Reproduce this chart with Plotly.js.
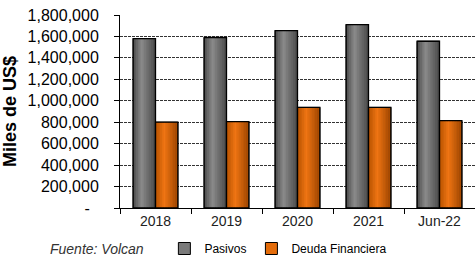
<!DOCTYPE html>
<html>
<head>
<meta charset="utf-8">
<script src="https://cdn.plot.ly/plotly-3.0.1.min.js"></script>
<style>html,body{margin:0;padding:0;background:#fff;}#chart{width:475px;height:263px;}</style>
</head>
<body>
<div id="chart"></div>
<script>
// ---- data ----
const categories = ["2018", "2019", "2020", "2021", "Jun-22"];
const pasivos = [1580000, 1590000, 1655000, 1710000, 1555000];
const deuda = [800000, 806000, 938000, 938000, 814000];
const seriesNames = ["Pasivos", "Deuda Financiera"];
const yTickVals = [0, 200000, 400000, 600000, 800000, 1000000, 1200000, 1400000, 1600000, 1800000];
const yTickText = ["-\u00a0\u00a0", "200,000", "400,000", "600,000", "800,000", "1,000,000", "1,200,000", "1,400,000", "1,600,000", "1,800,000"];
const sourceNote = "Fuente: Volcan";

// ---- style ----
const FONT = "Arial, 'Liberation Sans', sans-serif";
const BW = 0.315;
const N = 14;
function lerp(a, b, t) { return a + (b - a) * t; }
function shade(stops, t) {
  for (let i = 0; i < stops.length - 1; i++) {
    const [t0, c0] = stops[i], [t1, c1] = stops[i + 1];
    if (t >= t0 && t <= t1) {
      const u = (t - t0) / (t1 - t0);
      return "rgb(" + c0.map((v, k) => Math.round(lerp(v, c1[k], u))).join(",") + ")";
    }
  }
  return "rgb(" + stops[stops.length - 1][1].join(",") + ")";
}
const grayStops = [[0, [72, 72, 72]], [0.38, [140, 140, 140]], [1, [70, 70, 70]]];
const orangeStops = [[0, [178, 80, 0]], [0.4, [240, 118, 20]], [1, [150, 66, 0]]];

const traces = [];
function addSeries(name, vals, offset, stops, mid) {
  traces.push({type: "bar", name: name, x: categories, y: vals, offset: offset, width: BW,
    marker: {color: mid, line: {color: "#000", width: 1}}, showlegend: true, hoverinfo: "skip"});
  for (let i = 0; i < N; i++) {
    const t = (i + 0.5) / N;
    traces.push({type: "bar", x: categories, y: vals, offset: offset + BW * i / N, width: BW / N + 0.002,
      marker: {color: shade(stops, t), line: {width: 0}}, showlegend: false, hoverinfo: "skip"});
  }
  traces.push({type: "bar", x: categories, y: vals, offset: offset, width: BW,
    marker: {color: "rgba(0,0,0,0)", line: {color: "#000", width: 1.3}}, showlegend: false, hoverinfo: "skip"});
}
addSeries(seriesNames[0], pasivos, -BW, grayStops, "#7a7a7a");
addSeries(seriesNames[1], deuda, 0, orangeStops, "#e46c0a");

const layout = {
  width: 475, height: 263,
  margin: {l: 120, r: 0, t: 15, b: 50},
  paper_bgcolor: "#fff", plot_bgcolor: "#fff",
  barmode: "overlay",
  font: {family: FONT, color: "#000"},
  showlegend: true,
  legend: {orientation: "h", x: 0.125, y: -0.21, xanchor: "left", yanchor: "middle",
    font: {family: FONT, size: 12, color: "#000"}, itemwidth: 30, bgcolor: "rgba(0,0,0,0)", tracegroupgap: 0},
  xaxis: {type: "category", tickson: "boundaries", ticks: "outside", ticklen: 5, tickcolor: "#000",
    showline: true, linecolor: "#000", linewidth: 1, showgrid: false,
    tickfont: {family: FONT, size: 14, color: "#222"}, range: [-0.5, 4.5], fixedrange: true},
  yaxis: {range: [0, 1800000], tickvals: yTickVals, ticktext: yTickText, ticks: "outside", ticklen: 5,
    tickcolor: "#000", showline: true, linecolor: "#000", linewidth: 1,
    showgrid: true, gridcolor: "#333", griddash: "3px,1px", gridwidth: 1, zeroline: false,
    ticklabelstandoff: 12,
    tickfont: {family: FONT, size: 16, color: "#000"},
    title: {text: "<b>Miles de US$</b>", font: {family: FONT, size: 18, color: "#000"}, standoff: 7}},
  annotations: [{text: "<i>" + sourceNote + "</i>", xref: "paper", yref: "paper", x: -0.203, y: -0.21,
    xanchor: "left", yanchor: "middle", showarrow: false, font: {family: FONT, size: 14, color: "#333"}}]
};
Plotly.newPlot("chart", traces, layout, {displayModeBar: false, staticPlot: true});
</script>
</body>
</html>
